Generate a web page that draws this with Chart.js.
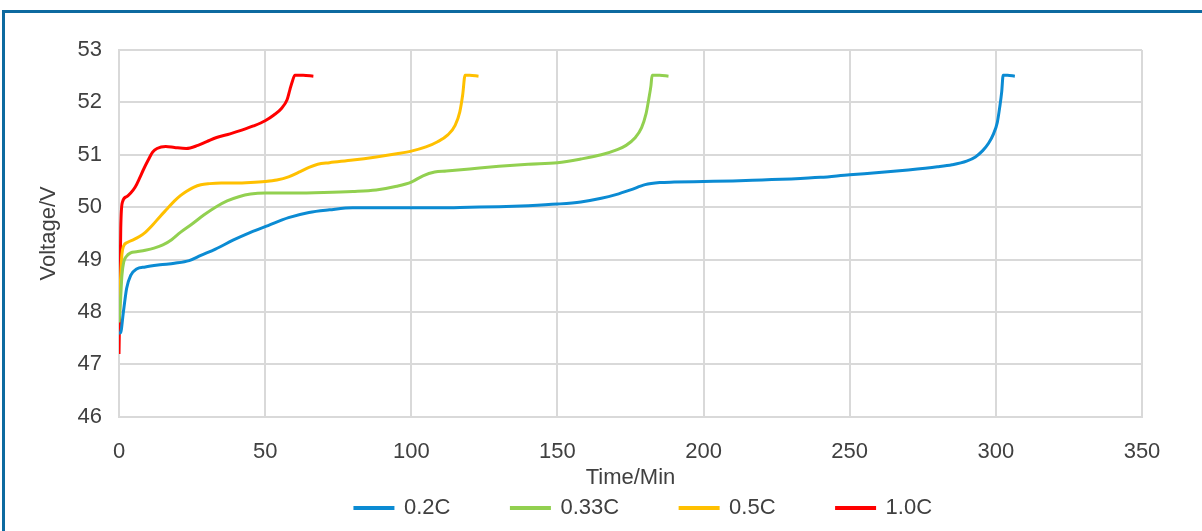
<!DOCTYPE html>
<html>
<head>
<meta charset="utf-8">
<script src="https://cdn.jsdelivr.net/npm/chart.js@4.4.1/dist/chart.umd.min.js"></script>
<style>
  html, body { margin: 0; padding: 0; background: #fff; }
  #wrap { position: relative; width: 1202px; height: 531px; overflow: hidden; }
  #frame {
    position: absolute; left: 2px; top: 10px; right: 0; bottom: 0;
    border-top: 3px solid #0d6aa0; border-left: 3px solid #0d6aa0;
  }
  #chart { position: absolute; left: 0; top: 0; }
</style>
</head>
<body>
<div id="wrap">
  <div id="frame"></div>
  <canvas id="chart" width="1202" height="531"></canvas>
</div>
<script>
// charge curves, time in minutes / pack voltage in V
const labels = ['0.2C', '0.33C', '0.5C', '1.0C'];
const colors = ['#0b8bd3', '#92d050', '#ffc000', '#ff0000'];

const t02 = [0, 0.5, 1.5, 2.6, 4, 6, 9, 14, 19, 24, 28, 33, 39, 45, 51, 58, 65, 72, 80, 90, 100, 110, 120, 130, 140, 150, 158, 165, 170, 175, 180, 185, 190, 200, 210, 220, 230, 240, 250, 260, 270, 280, 285, 290, 293, 295.5, 297.5, 299.2, 300.5, 301.3, 302, 302.5, 304, 306.5];
const v02 = [47.6, 47.6, 48.0, 48.45, 48.7, 48.82, 48.86, 48.9, 48.93, 48.98, 49.08, 49.2, 49.37, 49.52, 49.65, 49.8, 49.9, 49.95, 49.99, 49.99, 49.99, 49.99, 50.0, 50.01, 50.03, 50.06, 50.1, 50.17, 50.24, 50.33, 50.43, 50.47, 50.48, 50.49, 50.5, 50.52, 50.54, 50.57, 50.62, 50.66, 50.71, 50.77, 50.81, 50.88, 50.96, 51.08, 51.22, 51.4, 51.62, 51.9, 52.2, 52.52, 52.52, 52.5];

const t033 = [0, 0.5, 1, 1.6, 2.5, 4, 6, 9, 12, 15, 18, 21, 25, 29, 33, 37, 41, 45, 50, 60, 70, 80, 88, 95, 100, 104, 108, 112, 120, 130, 140, 150, 158, 165, 170, 173.5, 176.5, 178.8, 180.3, 181.3, 182, 182.4, 185, 188];
const v033 = [47.8, 48.2, 48.7, 48.95, 49.06, 49.13, 49.15, 49.18, 49.22, 49.28, 49.38, 49.52, 49.68, 49.85, 50.0, 50.12, 50.2, 50.25, 50.27, 50.27, 50.28, 50.3, 50.33, 50.4, 50.48, 50.6, 50.67, 50.69, 50.73, 50.78, 50.82, 50.85, 50.92, 51.0, 51.09, 51.18, 51.32, 51.52, 51.78, 52.08, 52.32, 52.52, 52.52, 52.5];

const t05 = [0, 0.5, 1, 1.5, 3, 5, 7, 9, 11.5, 14, 16.5, 19, 21, 23, 25.5, 28, 31, 35, 40, 45, 50, 54, 58, 62, 65, 68, 72, 80, 88, 95, 100, 105, 109, 112.5, 115, 116.6, 117.6, 118.4, 120, 123];
const v05 = [48.0, 48.6, 49.1, 49.25, 49.33, 49.38, 49.44, 49.52, 49.66, 49.82, 49.97, 50.12, 50.22, 50.3, 50.38, 50.43, 50.45, 50.46, 50.46, 50.47, 50.49, 50.52, 50.58, 50.68, 50.76, 50.82, 50.85, 50.9, 50.96, 51.02, 51.07, 51.15, 51.25, 51.38, 51.56, 51.82, 52.15, 52.52, 52.52, 52.5];

const t10 = [0, 0.3, 0.6, 1.2, 2.6, 4, 5.5, 7, 8.3, 10, 11.5, 13, 16, 19, 23, 27, 30, 33.4, 38, 42, 46, 50, 53, 55.5, 57.5, 58.5, 59.3, 60.2, 63, 66.5];
const v10 = [47.2, 48.3, 49.6, 50.1, 50.2, 50.27, 50.38, 50.55, 50.71, 50.9, 51.05, 51.12, 51.16, 51.14, 51.12, 51.18, 51.25, 51.33, 51.4, 51.47, 51.55, 51.65, 51.76, 51.88, 52.05, 52.25, 52.4, 52.52, 52.52, 52.5];

const xTicks = [0, 350, 50];   // min, max, step
const yTicks = [46, 53, 1];

const series = [[t02, v02], [t033, v033], [t05, v05], [t10, v10]];

const textColor = '#404040';
const gridColor = '#d9d9d9';
const fontFamily = '"Liberation Sans", Arial, sans-serif';

const datasets = series.map(([ts, vs], i) => ({
  label: labels[i],
  data: ts.map((t, k) => ({ x: t, y: vs[k] })),
  borderColor: colors[i],
  backgroundColor: colors[i],
  borderWidth: 3,
  pointRadius: 0,
  cubicInterpolationMode: 'monotone',
  fill: false
}));

new Chart(document.getElementById('chart'), {
  type: 'line',
  data: { datasets },
  options: {
    responsive: false,
    animation: false,
    layout: { padding: { left: 70, right: -15, top: 50, bottom: 2 } },
    plugins: {
      legend: {
        position: 'bottom',
        // empty title with negative padding pulls the wide-spaced row up
        title: { display: true, text: '', font: { size: 1 }, padding: { top: -28, bottom: 0 } },
        labels: {
          boxWidth: 38,
          boxHeight: 1,
          padding: 61,
          color: textColor,
          font: { family: fontFamily, size: 22 }
        }
      },
      tooltip: { enabled: false }
    },
    scales: {
      x: {
        type: 'linear',
        min: xTicks[0], max: xTicks[1],
        afterFit: s => { s.height = 46; },
        grid: { color: gridColor, lineWidth: 2, drawTicks: false },
        border: { color: gridColor, width: 2 },
        ticks: {
          stepSize: xTicks[2], padding: 22, maxRotation: 0, autoSkip: false,
          color: textColor, font: { family: fontFamily, size: 22 }
        },
        title: {
          display: true, text: 'Time/Min', color: textColor,
          font: { family: fontFamily, size: 22 },
          padding: { top: 0, bottom: -28 }
        }
      },
      y: {
        min: yTicks[0], max: yTicks[1],
        afterFit: s => { s.width = 49; },
        grid: { color: gridColor, lineWidth: 2, drawTicks: false },
        border: { color: gridColor, width: 2 },
        ticks: {
          stepSize: yTicks[2], padding: 17,
          color: textColor, font: { family: fontFamily, size: 22 }
        },
        title: {
          display: true, text: 'Voltage/V', color: textColor,
          font: { family: fontFamily, size: 22 },
          padding: { top: -34, bottom: 0 }
        }
      },
      yRight: {
        position: 'right',
        min: 0, max: 1,
        afterFit: s => { s.width = 75; },
        grid: { display: false },
        border: { display: false },
        ticks: { display: false }
      }
    }
  }
});
</script>
</body>
</html>
